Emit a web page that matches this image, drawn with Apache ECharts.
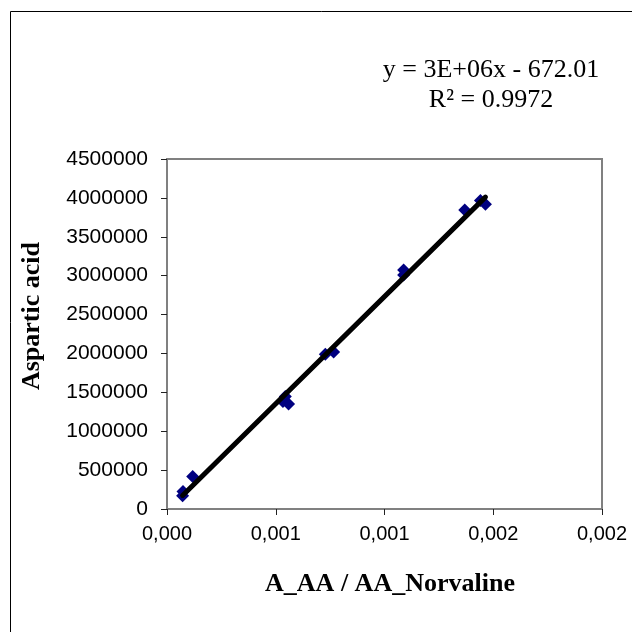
<!DOCTYPE html>
<html>
<head>
    <meta charset="utf-8">
    <script src="https://cdn.jsdelivr.net/npm/echarts@6/dist/echarts.min.js"></script>
    <style type="text/css">
        html, body { width: 100%; height: 100%; }
        * { margin: 0; }
        #chart { width: 632px; height: 632px; background: #fff; }
    </style>
</head>
<body>
<div id="chart"></div>
<script type="text/javascript">
    // measured points (A_AA / AA_Norvaline vs. Aspartic acid)
    var ratio = [0.0000717, 0.0000736, 0.000118, 0.000533, 0.000544, 0.000559, 0.000728, 0.000766, 0.001088, 0.001088, 0.001369, 0.001441, 0.001464];
    var aspartic = [171000, 226000, 419000, 1383000, 1447000, 1349000, 1991000, 2017000, 3074000, 3010000, 3845000, 3965000, 3918000];
    var xTickLabels = ['0,000', '0,001', '0,001', '0,002', '0,002'];
    var equationText = ['y = 3E+06x - 672.01', 'R² = 0.9972'];
    var xTitle = 'A_AA / AA_Norvaline';
    var yTitle = 'Aspartic acid';

    // least squares trendline over the points
    var n = ratio.length, sx = 0, sy = 0, sxx = 0, sxy = 0;
    for (var i = 0; i < n; i++) {
        sx += ratio[i]; sy += aspartic[i];
        sxx += ratio[i] * ratio[i]; sxy += ratio[i] * aspartic[i];
    }
    var slope = (n * sxy - sx * sy) / (n * sxx - sx * sx);
    var icpt = (sy - slope * sx) / n;
    var xMin = Math.min.apply(null, ratio), xMax = Math.max.apply(null, ratio);
    var trend = [[xMin, slope * xMin + icpt], [xMax, slope * xMax + icpt]];

    var points = ratio.map(function (x, i) { return [x, aspartic[i]]; });

    var myChart = echarts.init(document.getElementById('chart'), null, { renderer: 'canvas' });
    myChart.setOption({
        animation: false,
        backgroundColor: '#fff',
        grid: {
            left: 167, right: 30, top: 159, bottom: 123,
            show: true, borderColor: '#808080', borderWidth: 2
        },
        xAxis: {
            type: 'value', min: 0, max: 0.002, interval: 0.0005,
            splitLine: { show: false },
            axisLine: { lineStyle: { color: '#808080', width: 2 } },
            axisTick: { length: 6, lineStyle: { color: '#222' } },
            axisLabel: {
                margin: 15, color: '#000', fontFamily: 'Liberation Sans, Arial', fontSize: 20,
                formatter: function (v) { return xTickLabels[Math.round(v / 0.0005)]; }
            }
        },
        yAxis: {
            type: 'value', min: 0, max: 4500000, interval: 500000,
            splitLine: { show: false },
            axisLine: { show: true, lineStyle: { color: '#808080', width: 2 } },
            axisTick: { show: true, length: 6, lineStyle: { color: '#222' } },
            axisLabel: {
                margin: 19, color: '#000', fontFamily: 'Liberation Sans, Arial', fontSize: 21,
                formatter: function (v) { return String(v); }
            }
        },
        series: [
            {
                type: 'scatter', data: points, symbol: 'diamond', symbolSize: 13,
                itemStyle: { color: '#000080', opacity: 1 }, z: 2
            },
            {
                type: 'line', data: trend, symbol: 'none', z: 3,
                lineStyle: { color: '#000', width: 5, cap: 'round' }
            }
        ],
        graphic: [
            {
                type: 'rect', left: 8, top: 9, silent: true,
                shape: { width: 700, height: 700 },
                style: { fill: 'none', stroke: '#000', lineWidth: 1 }
            },
            {
                type: 'text', x: 491, y: 70,
                style: {
                    text: equationText[0], fill: '#000', fontFamily: 'Liberation Serif, Times New Roman',
                    fontSize: 26, align: 'center', verticalAlign: 'middle'
                }
            },
            {
                type: 'text', x: 491, y: 100,
                style: {
                    text: equationText[1], fill: '#000', fontFamily: 'Liberation Serif, Times New Roman',
                    fontSize: 26, align: 'center', verticalAlign: 'middle'
                }
            },
            {
                type: 'text', x: 390, y: 584,
                style: {
                    text: xTitle, fill: '#000', fontFamily: 'Liberation Serif, Times New Roman',
                    fontWeight: 'bold', fontSize: 26, align: 'center', verticalAlign: 'middle'
                }
            },
            {
                type: 'text', x: 32, y: 316, rotation: Math.PI / 2,
                style: {
                    text: yTitle, fill: '#000', fontFamily: 'Liberation Serif, Times New Roman',
                    fontWeight: 'bold', fontSize: 26, align: 'center', verticalAlign: 'middle'
                }
            }
        ]
    });
</script>
</body>
</html>
